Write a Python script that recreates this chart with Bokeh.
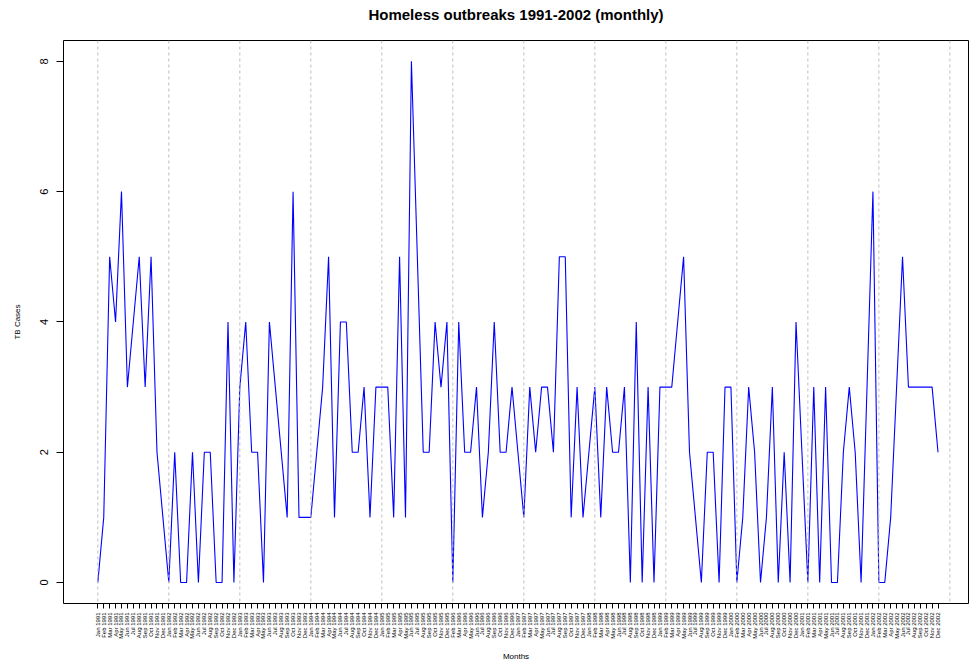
import math
from bokeh.plotting import figure
from bokeh.models import FixedTicker, Range1d, Span, ColumnDataSource, Title
from bokeh.embed import file_html
from bokeh.resources import INLINE

# monthly TB case counts (143 observations, Jan 1991 .. Dec 2002)
counts_1991 = [0, 1, 5, 4, 6, 3, 4, 5, 3, 5, 2, 1]
counts_1992 = [0, 2, 0, 0, 2, 0, 2, 2, 0, 0, 4, 0]
counts_1993 = [3, 4, 2, 2, 0, 4, 3, 2, 1, 6, 1, 1]
counts_1994 = [1, 2, 3, 5, 1, 4, 4, 2, 2, 3, 1, 3]
counts_1995 = [3, 3, 1, 5, 1, 8, 5, 2, 2, 4, 3, 4]
counts_1996 = [0, 4, 2, 2, 3, 1, 2, 4, 2, 2, 3, 2]
counts_1997 = [1, 3, 2, 3, 3, 2, 5, 5, 1, 3, 1, 2]
counts_1998 = [3, 1, 3, 2, 2, 3, 0, 4, 0, 3, 0, 3]
counts_1999 = [3, 3, 4, 5, 2, 1, 0, 2, 2, 0, 3, 3]
counts_2000 = [0, 1, 3, 2, 0, 1, 3, 0, 2, 0, 4, 2]
counts_2001 = [0, 3, 0, 3, 0, 0, 2, 3, 2, 0, 3, 6]
counts_2002 = [0, 0, 1, 3, 5, 3, 3, 3, 3, 3, 2]

counts = (counts_1991 + counts_1992 + counts_1993 + counts_1994 + counts_1995 +
          counts_1996 + counts_1997 + counts_1998 + counts_1999 + counts_2000 +
          counts_2001 + counts_2002)

month_names = ["Jan", "Feb", "Mar", "Apr", "May", "Jun",
               "Jul", "Aug", "Sep", "Oct", "Nov", "Dec"]
years = list(range(1991, 2003))
missing_label = "Jan 1996"
month_labels = [f"{m} {y}" for y in years for m in month_names
                if f"{m} {y}" != missing_label]

y_ticks = [0, 2, 4, 6, 8]
year_marks = list(range(0, 145, 12))

x = list(range(len(counts)))
src = ColumnDataSource(data=dict(x=x, y=counts))

FONT = "Liberation Sans"

p = figure(width=970, height=664, output_backend="svg", toolbar_location=None,
           x_range=Range1d(-5.8, 147.15), y_range=Range1d(-0.322, 8.32),
           min_border_left=63, min_border_right=2, min_border_top=40,
           min_border_bottom=61)
p.title.text = ""

# spacer (nearest the frame) so that the title sits higher
spacer = Title(text=" ", text_font_size="1px", standoff=15)
p.add_layout(spacer, "above")
main_title = Title(text="Homeless outbreaks 1991-2002 (monthly)", align="center",
                   text_font=FONT, text_font_size="15px", text_font_style="bold",
                   text_color="black", standoff=0)
p.add_layout(main_title, "above")

p.outline_line_color = "black"
p.outline_line_width = 1
p.outline_line_alpha = 1
p.xgrid.visible = False
p.ygrid.visible = False
p.background_fill_color = "white"
p.border_fill_color = "white"

for m in year_marks:
    p.add_layout(Span(location=m, dimension="height", line_color="#bdbdbd",
                      line_dash="3 3", line_width=1))

p.line("x", "y", source=src, line_color="#0000ff", line_width=1.1)

xa = p.xaxis[0]
xa.ticker = FixedTicker(ticks=x)
xa.major_label_overrides = {i: lab for i, lab in enumerate(month_labels)}
xa.major_label_orientation = math.pi / 2
xa.major_label_text_font = FONT
xa.major_label_text_font_size = "6px"
xa.major_label_text_color = "black"
xa.major_label_standoff = 4
xa.major_tick_out = 5
xa.major_tick_in = 0
xa.minor_tick_line_color = None
xa.axis_line_color = None
xa.major_tick_line_color = "black"
xa.axis_label = "Months"
xa.axis_label_text_font = FONT
xa.axis_label_text_font_size = "8px"
xa.axis_label_text_font_style = "normal"
xa.axis_label_text_color = "black"
xa.axis_label_standoff = 10

ya = p.yaxis[0]
ya.ticker = FixedTicker(ticks=y_ticks)
ya.major_label_orientation = "vertical"
ya.major_label_text_font = FONT
ya.major_label_text_font_size = "11px"
ya.major_label_text_color = "black"
ya.major_label_standoff = 8
ya.major_tick_out = 7
ya.major_tick_in = 0
ya.minor_tick_line_color = None
ya.axis_line_color = None
ya.major_tick_line_color = "black"
ya.axis_label = "TB Cases"
ya.axis_label_text_font = FONT
ya.axis_label_text_font_size = "8px"
ya.axis_label_text_font_style = "normal"
ya.axis_label_text_color = "black"
ya.axis_label_standoff = 16

open("out.html", "w").write(file_html(p, INLINE))
